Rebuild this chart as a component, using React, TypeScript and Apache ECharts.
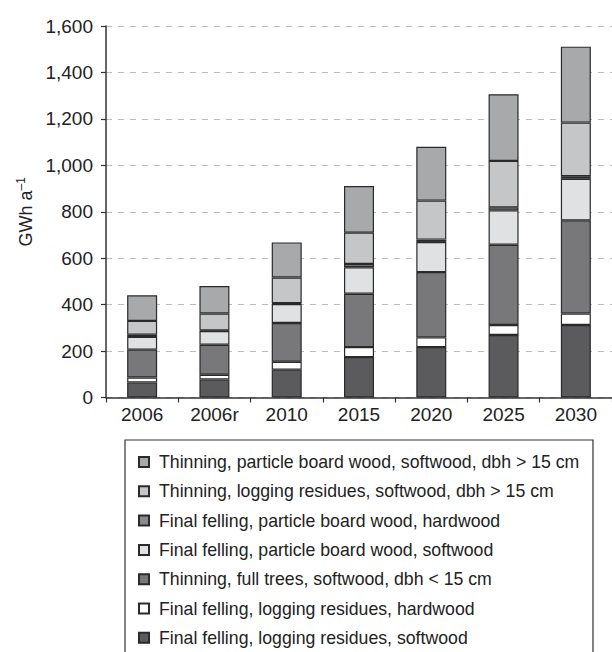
import React, { useEffect, useRef } from "react";
import * as echarts from "echarts";

const categories = ["2006", "2006r", "2010", "2015", "2020", "2025", "2030"];

const seriesNames = [
  "Final felling, logging residues, softwood",
  "Final felling, logging residues, hardwood",
  "Thinning, full trees, softwood, dbh < 15 cm",
  "Final felling, particle board wood, softwood",
  "Final felling, particle board wood, hardwood",
  "Thinning, logging residues, softwood, dbh > 15 cm",
  "Thinning, particle board wood, softwood, dbh > 15 cm",
];

const ffResSoft = [65, 78, 120, 174, 217, 269, 312];
const ffResHard = [21, 20, 34, 43, 42, 43, 50];
const thFullSoft = [120, 129, 167, 230, 281, 346, 401];
const ffPbSoft = [55, 59, 82, 114, 130, 148, 179];
const ffPbHard = [9, 3, 3, 14, 10, 13, 11];
const thResSoft = [60, 73, 111, 135, 168, 200, 231];
const thPbSoft = [110, 118, 151, 201, 232, 287, 327];

const seriesValues = [ffResSoft, ffResHard, thFullSoft, ffPbSoft, ffPbHard, thResSoft, thPbSoft];
const seriesColors = ["#5b5b5d", "#ffffff", "#78787b", "#e0e1e2", "#8a8a8d", "#c5c6c8", "#a8a9ab"];

const yTicks = { min: 0, max: 1600, interval: 200 };

const FONT = "'Liberation Sans', Arial, sans-serif";

export default function App() {
  const ref = useRef<HTMLDivElement>(null);
  useEffect(() => {
    if (!ref.current) return;
    const chart = echarts.init(ref.current, undefined, { renderer: "svg" });
    chart.setOption({
      animation: false,
      textStyle: { fontFamily: FONT },
      grid: { left: 106, top: 26, width: 510, height: 371.5, containLabel: false },
      xAxis: {
        type: "category",
        data: categories,
        axisLine: { lineStyle: { color: "#333", width: 1.5 } },
        axisTick: { show: true, length: 5, lineStyle: { color: "#333", width: 1.2 } },
        axisLabel: { fontSize: 19, color: "#222", margin: 7, fontFamily: FONT },
        splitLine: { show: false },
      },
      yAxis: {
        type: "value",
        min: yTicks.min,
        max: yTicks.max,
        interval: yTicks.interval,
        name: "{a|GWh a}{b|–1}",
        nameLocation: "middle",
        nameGap: 69,
        nameTextStyle: {
          rich: {
            a: { fontSize: 18, color: "#222", fontFamily: FONT, lineHeight: 22 },
            b: { fontSize: 12, color: "#222", fontFamily: FONT, verticalAlign: "top", lineHeight: 22, padding: [0, 0, 8, 0] },
          },
        },
        axisLine: { show: true, lineStyle: { color: "#333", width: 1.5 } },
        axisTick: { show: true, length: 5, lineStyle: { color: "#333", width: 1.2 } },
        axisLabel: {
          fontSize: 19,
          color: "#222",
          margin: 13,
          fontFamily: FONT,
          formatter: (v: number) => v.toLocaleString("en-US"),
        },
        splitLine: { show: true, lineStyle: { color: "#bcbcbc", type: [6, 6], width: 1.2 } },
      },
      legend: {
        orient: "vertical",
        left: 138,
        top: 453,
        padding: 0,
        itemWidth: 10,
        itemHeight: 10,
        itemGap: 11.3,
        icon: "rect",
        data: [...seriesNames].reverse(),
        textStyle: { fontSize: 17.7, color: "#222", fontFamily: FONT, padding: [0, 0, 0, 5] },
      },
      graphic: [
        {
          type: "rect",
          shape: { x: 125, y: 440, width: 468, height: 240 },
          style: { fill: "none", stroke: "#333", lineWidth: 1.2 },
          z: 0,
        },
      ],
      series: seriesNames.map((name, i) => ({
        name,
        type: "bar",
        stack: "total",
        barWidth: 30,
        data: seriesValues[i],
        itemStyle: { color: seriesColors[i], borderColor: "#2a2a2a", borderWidth: 1.2 },
      })),
    });
    return () => chart.dispose();
  }, []);
  return <div ref={ref} style={{ position: "absolute", left: 0, top: 0, width: 612, height: 652 }} />;
}
